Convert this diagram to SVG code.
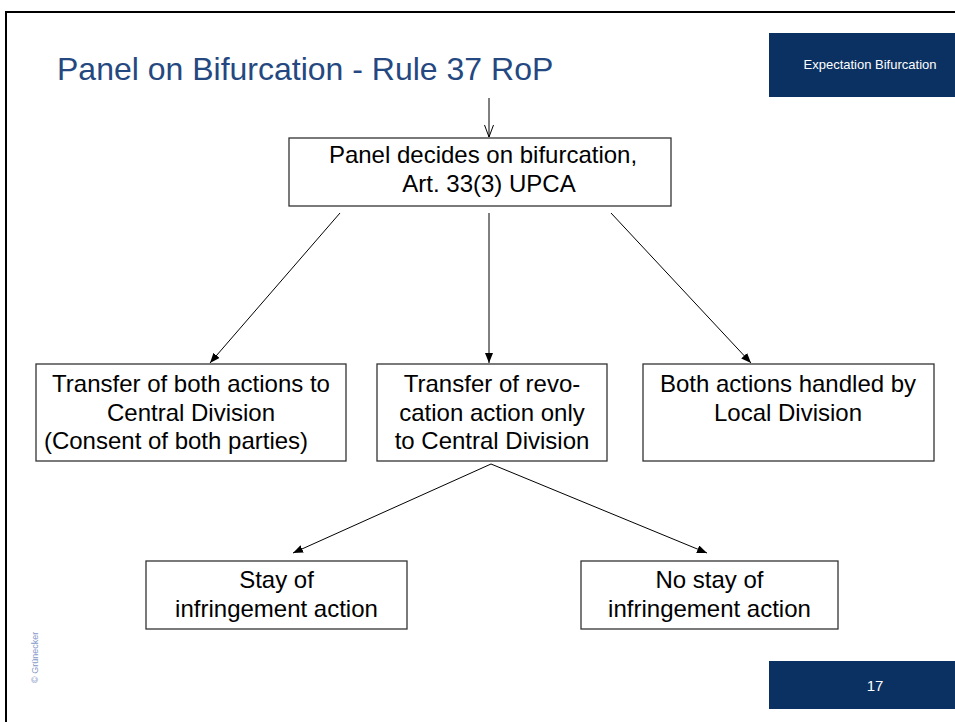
<svg xmlns="http://www.w3.org/2000/svg" width="955" height="722" viewBox="0 0 955 722">
<style>
  .box { fill: #ffffff; stroke: #333333; stroke-width: 1.3; }
  .t { font-family: "Liberation Sans", Arial, sans-serif; font-size: 24px; fill: #000000; text-anchor: middle; }
  .conn { stroke: #000000; stroke-width: 1; fill: none; }
  .navy { fill: #0b3162; }
</style>
<defs>
  <marker id="af" markerUnits="userSpaceOnUse" markerWidth="11" markerHeight="9" refX="10" refY="4" orient="auto">
    <path d="M0,0 L10,4 L0,8 z" fill="#000000"/>
  </marker>
  <marker id="ao" markerUnits="userSpaceOnUse" markerWidth="14" markerHeight="11" refX="12.5" refY="5" orient="auto">
    <path d="M0.5,0.5 L12.5,5 L0.5,9.5" fill="none" stroke="#000000" stroke-width="1"/>
  </marker>
</defs>
<rect x="0" y="0" width="955" height="722" fill="#ffffff"/>
<path d="M6,722 L6,12 L955,12" fill="none" stroke="#000000" stroke-width="2"/>

<text x="57" y="80" font-family="Liberation Sans, Arial, sans-serif" font-size="32" fill="#24487f">Panel on Bifurcation - Rule 37 RoP</text>

<g id="tag-top">
  <rect class="navy" x="769" y="33" width="186" height="64"/>
  <text x="870" y="69" font-family="Liberation Sans, Arial, sans-serif" font-size="13" fill="#ffffff" text-anchor="middle">Expectation Bifurcation</text>
</g>
<g id="page-number">
  <rect class="navy" x="769" y="661" width="186" height="48"/>
  <text x="875" y="691" font-family="Liberation Sans, Arial, sans-serif" font-size="15" fill="#ffffff" text-anchor="middle">17</text>
</g>
<text transform="translate(38,683) rotate(-90)" font-family="Liberation Sans, Arial, sans-serif" font-size="9" fill="#8598c8">© Grünecker</text>

<g id="connectors">
  <line class="conn" x1="489" y1="98" x2="489" y2="137" marker-end="url(#ao)"/>
  <line class="conn" x1="340" y1="213" x2="210" y2="363" marker-end="url(#af)"/>
  <line class="conn" x1="489" y1="213" x2="489" y2="363" marker-end="url(#af)"/>
  <line class="conn" x1="611" y1="213" x2="751" y2="363" marker-end="url(#af)"/>
  <line class="conn" x1="491" y1="464" x2="293" y2="553" marker-end="url(#af)"/>
  <line class="conn" x1="491" y1="464" x2="707" y2="553" marker-end="url(#af)"/>
</g>

<g id="panel-decides">
  <rect class="box" x="289" y="138" width="382" height="68"/>
  <text class="t" x="483" y="163">Panel decides on bifurcation,</text>
  <text class="t" x="489" y="192">Art. 33(3) UPCA</text>
</g>
<g id="transfer-both">
  <rect class="box" x="36" y="364" width="310" height="97"/>
  <text class="t" x="191" y="392">Transfer of both actions to</text>
  <text class="t" x="191" y="421">Central Division</text>
  <text class="t" x="176" y="449">(Consent of both parties)</text>
</g>
<g id="transfer-revocation">
  <rect class="box" x="377" y="364" width="230" height="97"/>
  <text class="t" x="492" y="392">Transfer of revo-</text>
  <text class="t" x="492" y="421">cation action only</text>
  <text class="t" x="492" y="449">to Central Division</text>
</g>
<g id="local-division">
  <rect class="box" x="643" y="364" width="291" height="97"/>
  <text class="t" x="788" y="392">Both actions handled by</text>
  <text class="t" x="788" y="421">Local Division</text>
</g>
<g id="stay">
  <rect class="box" x="146" y="561" width="261" height="68"/>
  <text class="t" x="276.5" y="588">Stay of</text>
  <text class="t" x="276.5" y="617">infringement action</text>
</g>
<g id="no-stay">
  <rect class="box" x="581" y="561" width="257" height="68"/>
  <text class="t" x="709.5" y="588">No stay of</text>
  <text class="t" x="709.5" y="617">infringement action</text>
</g>
</svg>
